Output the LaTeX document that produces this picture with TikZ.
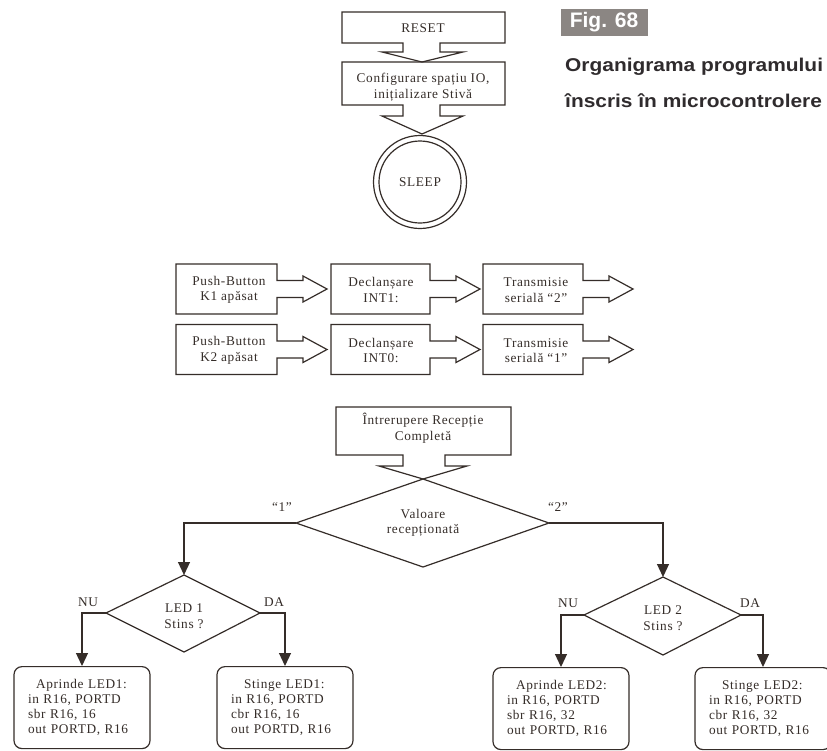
\documentclass[tikz,border=0pt]{standalone}
\usepackage{fontspec}
\setmainfont{Liberation Serif}[LetterSpace=5]
\newfontfamily\capfont{Liberation Sans}
\usetikzlibrary{arrows.meta}
\definecolor{ink}{HTML}{352D29}
\definecolor{figbg}{HTML}{8B8683}
\definecolor{capink}{HTML}{2F2B2D}
\newcommand{\rblock}[3]{%
  \draw[outl] (#2,{#3-8.5}) -- (#2,{#3-25}) -- (#1,{#3-25}) -- (#1,{#3+25}) -- (#2,{#3+25}) -- (#2,{#3+8.5})
   -- ({#2+26},{#3+8.5}) -- ({#2+26},{#3+13}) -- ({#2+50},#3) -- ({#2+26},{#3-13}) -- ({#2+26},{#3-8.5}) -- cycle;}
\begin{document}
\begin{tikzpicture}[x=1pt,y=-1pt,
  outl/.style={draw=ink, line width=1.2pt, line join=miter},
  txt/.style={text=ink, font=\fontsize{13.3}{15.5}\selectfont, align=center, inner sep=0pt},
  flow/.style={draw=ink, line width=1.2pt, -{Triangle[length=13pt,width=12pt]}},
  codebox/.style={draw=ink, line width=1.2pt, rounded corners=8pt, minimum width=136pt, minimum height=82pt,
    inner xsep=14pt, text width=108pt, align=left, text=ink, font=\fontsize{13.3}{15}\selectfont, anchor=north},
  tag/.style={text=ink, font=\fontsize{13.3}{15}\selectfont, inner sep=0pt}
]
\useasboundingbox (0,0) rectangle (827,750);
\clip (0,0) rectangle (827,750);
\fill[white] (0,0) rectangle (827,750);

% caption
\node[fill=figbg, text=white, font=\capfont\bfseries\fontsize{21}{21}\selectfont, minimum width=87pt, minimum height=27pt, inner sep=0pt] (fig) at (604,22) {Fig. 68};
\node[anchor=west, text=capink, font=\capfont\bfseries\fontsize{18.5}{18.5}\selectfont, inner sep=0pt] (cap1) at (565,67) {\scalebox{1.13}[1]{Organigrama programului}};
\node[anchor=west, text=capink, font=\capfont\bfseries\fontsize{18.5}{18.5}\selectfont, inner sep=0pt] (cap2) at (565,101) {\scalebox{1.13}[1]{înscris în microcontrolere}};

% top chain
\draw[outl] (403,43) -- (342,43) -- (342,12) -- (505,12) -- (505,43) -- (440,43) -- (440,52) -- (463,52) -- (422,62) -- (382,52) -- (403,52) -- cycle;
\node[txt] (reset) at (423,28) {RESET};
\draw[outl] (403,105) -- (342,105) -- (342,62) -- (505,62) -- (505,105) -- (440,105) -- (440,116) -- (463,116) -- (422,134) -- (382,116) -- (403,116) -- cycle;
\node[txt] (config) at (423,87) {Configurare spațiu IO,\\inițializare Stivă};
\node[txt] (sleep) at (420,182) {SLEEP};
\draw[outl] (sleep) circle[radius=46.5pt];
\draw[outl] (sleep) circle[radius=41pt];

% interrupt rows
\rblock{176}{277}{289}
\rblock{331}{430}{289}
\rblock{483}{583}{289}
\rblock{176}{277}{349.5}
\rblock{331}{430}{349.5}
\rblock{483}{583}{349.5}
\node[txt] (pb1) at (229,290) {Push-Button\\K1 apăsat};
\node[txt] (d1) at (381,290) {Declanșare\\INT1:};
\node[txt] (t1) at (536,290) {Transmisie\\serială “2”};
\node[txt] (pb2) at (229,350.5) {Push-Button\\K2 apăsat};
\node[txt] (d0) at (381,350.5) {Declanșare\\INT0:};
\node[txt] (t0) at (536,350.5) {Transmisie\\serială “1”};

% receive interrupt
\draw[outl] (403,455) -- (336,455) -- (336,407) -- (511,407) -- (511,455) -- (445,455) -- (445,466) -- (467,466) -- (423,479) -- (379,466) -- (403,466) -- cycle;
\node[txt] (rx) at (423,428) {Întrerupere Recepție\\Completă};

% main decision
\coordinate (vT) at (423,479);
\coordinate (vL) at (296,523);
\coordinate (vR) at (549,523);
\coordinate (vB) at (423,567);
\draw[outl] (vT) -- (vR) -- (vB) -- (vL) -- cycle;
\node[txt] (val) at (423,523) {Valoare\\recepționată};
\node[tag] (q1) at (282,507) {“1”};
\node[tag] (q2) at (558,507) {“2”};

% LED1 decision
\coordinate (l1T) at (184,575);
\coordinate (l1L) at (106,613);
\coordinate (l1R) at (260,613);
\coordinate (l1B) at (184,652);
\draw[outl] (l1T) -- (l1R) -- (l1B) -- (l1L) -- cycle;
\node[txt] (led1) at (184,616) {LED 1\\Stins ?};
\node[tag] (nu1) at (88,602) {NU};
\node[tag] (da1) at (274,602) {DA};

% LED2 decision
\coordinate (l2T) at (663,577);
\coordinate (l2L) at (584,615);
\coordinate (l2R) at (741,615);
\coordinate (l2B) at (663,655);
\draw[outl] (l2T) -- (l2R) -- (l2B) -- (l2L) -- cycle;
\node[txt] (led2) at (663,618) {LED 2\\Stins ?};
\node[tag] (nu2) at (568,603) {NU};
\node[tag] (da2) at (750,603) {DA};

% action boxes
\node[codebox] (a1) at (82,666) {\hspace*{8pt}Aprinde LED1:\\in R16, PORTD\\sbr R16, 16\\out PORTD, R16};
\node[codebox] (s1) at (285,666) {\hspace*{13pt}Stinge LED1:\\in R16, PORTD\\cbr R16, 16\\out PORTD, R16};
\node[codebox] (a2) at (561,667) {\hspace*{9pt}Aprinde LED2:\\in R16, PORTD\\sbr R16, 32\\out PORTD, R16};
\node[codebox] (s2) at (763,667) {\hspace*{13pt}Stinge LED2:\\in R16, PORTD\\cbr R16, 32\\out PORTD, R16};

% connectors
\draw[flow] (vL) -| (l1T);
\draw[flow] (vR) -| (l2T);
\draw[flow] (l1L) -| (a1.north);
\draw[flow] (l1R) -| (s1.north);
\draw[flow] (l2L) -| (a2.north);
\draw[flow] (l2R) -| (s2.north);
\end{tikzpicture}
\end{document}
